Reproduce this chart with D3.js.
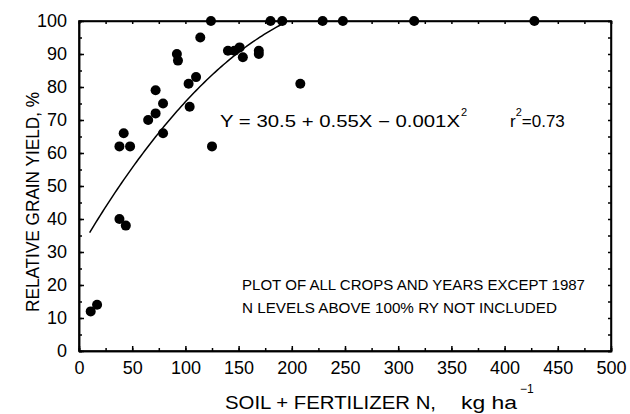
<!DOCTYPE html>
<html>
<head>
<meta charset="utf-8">
<title>Relative grain yield vs soil + fertilizer N</title>
<script src="https://d3js.org/d3.v7.min.js"></script>
<style>
    body { margin: 0; background: #fff; }
    svg text { font-family: 'Liberation Sans', 'DejaVu Sans', sans-serif; fill: #000; }
    .axis path, .axis line { stroke: #000; stroke-width: 1.5; }
    .axis text { font-size: 18px; }
</style>
</head>
<body>
<script>
// soil + fertilizer N (kg/ha) and relative grain yield (%)
var nRate = [11, 17, 38, 44, 38, 42, 48, 65, 72, 72, 79, 79, 92, 93, 103, 104, 110, 114, 124, 125,
             140, 146, 151, 154, 169, 169, 180, 191, 208, 229, 248, 315, 428];
var relYield = [12, 14, 40, 38, 62, 66, 62, 70, 72, 79, 75, 66, 90, 88, 81, 74, 83, 95, 100, 62,
                91, 91, 92, 89, 91, 90, 100, 100, 81, 100, 100, 100, 100];

// fitted quadratic: Y = a + bX + cX^2, drawn over the range of the fit
var coef = [30.5, 0.55, -0.001];
var fitRange = [10, 190];

var xTicks = [0, 50, 100, 150, 200, 250, 300, 350, 400, 450, 500];
var yTicks = [0, 10, 20, 30, 40, 50, 60, 70, 80, 90, 100];

var W = 630, H = 414;
var m = { left: 79, right: 611, top: 21, bottom: 351 };

var svg = d3.select('body').append('svg')
    .attr('width', W)
    .attr('height', H);

var x = d3.scaleLinear().domain([0, 500]).range([m.left, m.right]);
var y = d3.scaleLinear().domain([0, 100]).range([m.bottom, m.top]);

// minor ticks (every 25 / every 5)
var minorX = d3.range(0, 501, 25);
var minorY = d3.range(0, 101, 5);

svg.append('g').attr('class', 'axis')
    .attr('transform', 'translate(0,' + m.bottom + ')')
    .call(d3.axisBottom(x).tickValues(minorX).tickSize(-3).tickFormat(''));
svg.append('g').attr('class', 'axis')
    .attr('transform', 'translate(0,' + m.top + ')')
    .call(d3.axisTop(x).tickValues(minorX).tickSize(-3).tickFormat(''));
svg.append('g').attr('class', 'axis')
    .attr('transform', 'translate(' + m.left + ',0)')
    .call(d3.axisLeft(y).tickValues(minorY).tickSize(-3).tickFormat(''));
svg.append('g').attr('class', 'axis')
    .attr('transform', 'translate(' + m.right + ',0)')
    .call(d3.axisRight(y).tickValues(minorY).tickSize(-3).tickFormat(''));

// major ticks with labels
svg.append('g').attr('class', 'axis')
    .attr('transform', 'translate(0,' + m.bottom + ')')
    .call(d3.axisBottom(x).tickValues(xTicks).tickSizeInner(-5).tickSizeOuter(0).tickPadding(12))
    .selectAll('text').attr('dy', '0.6em');
svg.append('g').attr('class', 'axis')
    .attr('transform', 'translate(' + m.left + ',0)')
    .call(d3.axisLeft(y).tickValues(yTicks).tickSizeInner(-5).tickSizeOuter(0).tickPadding(12));

// frame
svg.append('rect')
    .attr('x', m.left).attr('y', m.top)
    .attr('width', m.right - m.left).attr('height', m.bottom - m.top)
    .attr('fill', 'none').attr('stroke', '#000').attr('stroke-width', 1.6);

// fitted curve
var curveX = d3.range(fitRange[0], fitRange[1] + 1, 2);
var line = d3.line()
    .x(function(d){ return x(d); })
    .y(function(d){ return y(Math.min(100, coef[0] + coef[1] * d + coef[2] * d * d)); })
    .curve(d3.curveMonotoneX);

svg.append('path')
    .datum(curveX)
    .attr('d', line)
    .attr('fill', 'none')
    .attr('stroke', '#000')
    .attr('stroke-width', 1.5);

// points
svg.append('g').selectAll('circle')
    .data(nRate)
    .enter()
    .append('circle')
    .attr('cx', function(d){ return x(d); })
    .attr('cy', function(d, i){ return y(relYield[i]); })
    .attr('r', 5)
    .attr('fill', '#000');

// equation
svg.append('text')
    .attr('x', 220).attr('y', 127)
    .attr('textLength', 240).attr('lengthAdjust', 'spacingAndGlyphs')
    .style('font-size', '16px')
    .text('Y = 30.5 + 0.55X \u2212 0.001X');
svg.append('text')
    .attr('x', 461).attr('y', 116)
    .style('font-size', '11px')
    .text('2');
var r2 = svg.append('text')
    .attr('x', 510).attr('y', 127)
    .style('font-size', '17px');
r2.append('tspan').text('r');
r2.append('tspan').attr('dy', -11).style('font-size', '11px').text('2');
r2.append('tspan').attr('dy', 11).text('=0.73');

// notes
svg.append('text')
    .attr('x', 242).attr('y', 290)
    .attr('textLength', 343).attr('lengthAdjust', 'spacingAndGlyphs')
    .style('font-size', '14px')
    .text('PLOT OF ALL CROPS AND YEARS EXCEPT 1987');
svg.append('text')
    .attr('x', 242).attr('y', 313)
    .attr('textLength', 315).attr('lengthAdjust', 'spacingAndGlyphs')
    .style('font-size', '14px')
    .text('N LEVELS ABOVE 100% RY NOT INCLUDED');

// axis titles
svg.append('text')
    .attr('transform', 'translate(38.5,' + 202 + ') rotate(-90)')
    .attr('text-anchor', 'middle')
    .attr('textLength', 220).attr('lengthAdjust', 'spacingAndGlyphs')
    .style('font-size', '18px')
    .text('RELATIVE GRAIN YIELD, %');

svg.append('text')
    .attr('x', 225).attr('y', 409)
    .attr('textLength', 211).attr('lengthAdjust', 'spacingAndGlyphs')
    .style('font-size', '18px')
    .text('SOIL + FERTILIZER N,');
svg.append('text')
    .attr('x', 461).attr('y', 409)
    .attr('textLength', 56).attr('lengthAdjust', 'spacingAndGlyphs')
    .style('font-size', '18px')
    .text('kg ha');
svg.append('text')
    .attr('x', 520).attr('y', 393)
    .style('font-size', '12px')
    .text('\u22121');
</script>
</body>
</html>
